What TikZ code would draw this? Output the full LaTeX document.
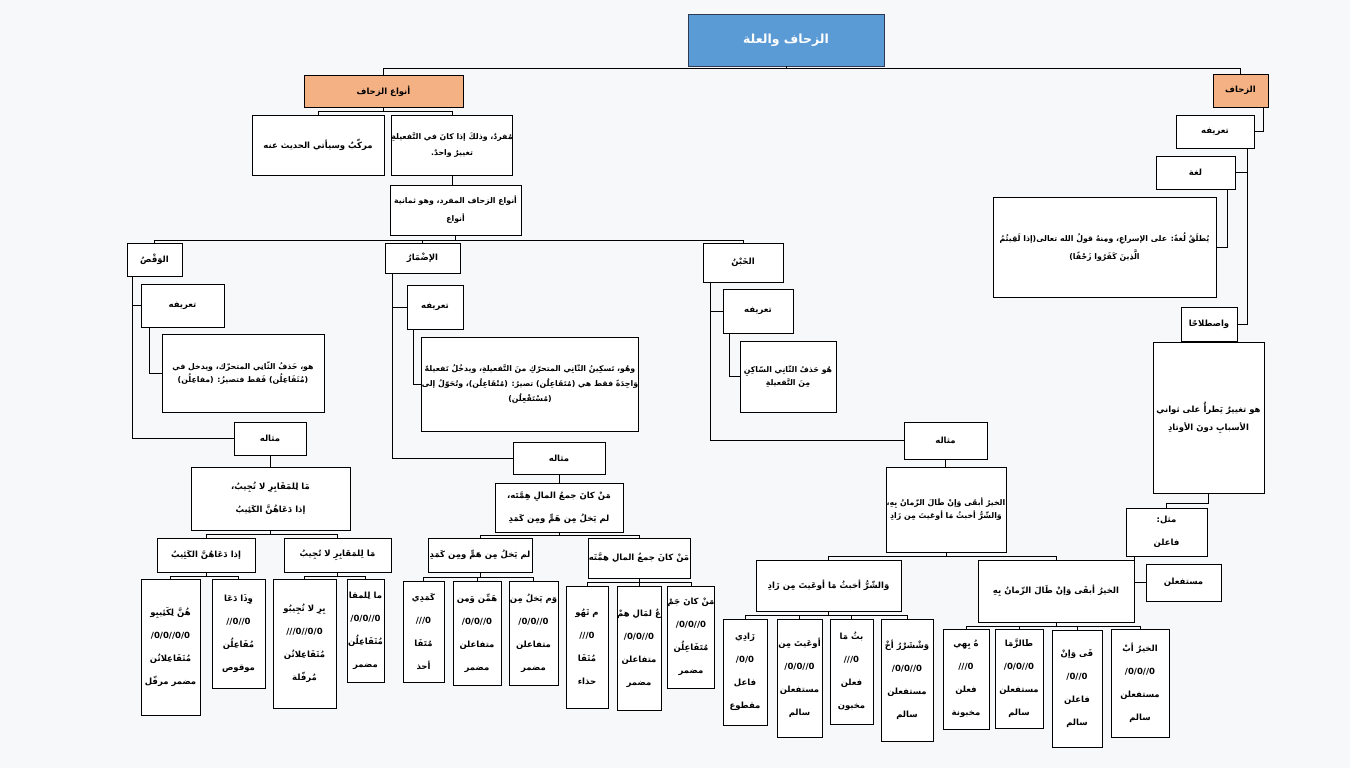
\documentclass[tikz,border=0pt]{standalone}
\usepackage{fontspec}
\usetikzlibrary{calc}
\newfontfamily\arabicfont[Script=Arabic]{DejaVu Sans}
\TeXXeTstate=1
\newcommand\AR[1]{\beginR #1\endR}
\definecolor{titleblue}{HTML}{5B9BD5}
\definecolor{titleborder}{HTML}{2F3B55}
\definecolor{orangebox}{HTML}{F4B183}
\definecolor{bgcol}{HTML}{F7F8FA}
\newcommand\mybox[7]{%
 \pgfmathsetmacro\mybw{#4-#2}\pgfmathsetmacro\mybh{#5-#3}%
 \node[#6, minimum width=\mybw pt, minimum height=\mybh pt] (#1) at ({(#2+#4)/2},{(#3+#5)/2}) {#7};}
\begin{document}
\begin{tikzpicture}[x=1pt,y=-1pt,
  bx/.style={draw=black, line width=0.8pt, fill=white, inner sep=0pt, align=center, font=\arabicfont\bfseries\fontsize{8.5}{16}\selectfont},
  lsp/.style={font=\arabicfont\bfseries\fontsize{8.5}{#1}\selectfont},
  sml/.style={font=\arabicfont\bfseries\fontsize{7.8}{#1}\selectfont},
  hdr/.style={bx, fill=orangebox},
  ttl/.style={bx, fill=titleblue, draw=titleborder, text=white, font=\arabicfont\bfseries\fontsize{12.5}{15}\selectfont},
  dbl/.style={bx, lsp=23},
  leaf/.style={bx, lsp=23},
  conn/.style={draw=black, line width=0.7pt}]
\fill[bgcol] (0,0) rectangle (1350,768);
\useasboundingbox (0,0) rectangle (1350,768);
% top
\mybox{title}{688}{14}{884}{66}{ttl}{\AR{الزحاف والعلة}}
\mybox{anwa}{304}{75}{463}{107}{hdr}{\AR{أنواع الزحاف}}
\mybox{zihaf}{1213}{74}{1268}{107}{hdr}{\AR{الزحاف}}
% right column
\mybox{tarif1}{1176}{115}{1254}{148}{bx}{\AR{تعريفه}}
\mybox{lugha}{1156}{156}{1235}{189}{bx}{\AR{لغة}}
\mybox{lughadef}{993}{197}{1216}{297}{bx,sml=18}{\AR{يُطلَقُ لُغةً: على الإسراعِ، ومِنهُ قولُ الله تعالى(إذا لَقِيتُمُ}\\\AR{الَّذِينَ كَفَرُوا زَحْفًا)}}
\mybox{istilah}{1181}{307}{1237}{341}{bx}{\AR{واصطلاحًا}}
\mybox{istdef}{1153}{342}{1264}{493}{bx,lsp=18}{\AR{هو تغييرٌ يَطرأُ على ثواني}\\\AR{الأسبابِ دونَ الأوتادِ}}
\mybox{mithl}{1126}{508}{1207}{556}{dbl}{\AR{مثل:}\\\AR{فاعلن}}
\mybox{mustaf}{1146}{564}{1221}{601}{bx}{\AR{مستفعلن}}
% left top
\mybox{murakkab}{252}{115}{384}{175}{bx}{\AR{مركّبٌ وسيأتي الحديث عنه}}
\mybox{mufrad}{392}{115}{512}{175}{bx,sml=16}{\AR{مُفردٌ، وذلكَ إذا كانَ في التَّفعيلةِ}\\\AR{تغييرٌ واحدٌ.}}
\mybox{thamaniya}{390}{185}{521}{235}{bx,sml=18}{\AR{أنواع الزحاف المفرد، وهو ثمانية}\\\AR{أنواع}}
% waqs
\mybox{waqs}{127}{243}{182}{276}{bx}{\AR{الوَقْصُ}}
\mybox{waqstarif}{141}{284}{224}{327}{bx}{\AR{تعريفه}}
\mybox{waqsdef}{162}{334}{324}{412}{bx,sml=13}{\AR{هو، حَذفُ الثّانِي المتحرّك، ويدخل في}\\\AR{(مُتَفَاعِلُن) فَقط فتصيرُ: (مفاعِلُن)}}
\mybox{waqsmithal}{234}{422}{306}{455}{bx}{\AR{مثاله}}
\mybox{waqsex}{191}{467}{350}{530}{dbl}{\AR{مَا لِلمَقَابِرِ لا تُجِيبُ،}\\\AR{إذا دَعَاهُنَّ الكَئِيبُ}}
\mybox{waqsA}{157}{538}{255}{572}{bx}{\AR{إذا دَعَاهُنَّ الكَئِيبُ}}
\mybox{waqsB}{284}{538}{391}{572}{bx}{\AR{مَا لِلمَقَابِرِ لا تُجِيبُ}}
\mybox{wa}{141}{579}{200}{715}{leaf}{\AR{هُنَّ لِكَئِيبِو}\\0/0//0/0/\\\AR{مُتَفَاعِلاتُن}\\\AR{مضمر مرفّل}}
\mybox{wb}{212}{579}{265}{688}{leaf}{\AR{وِذَا دَعَا}\\0//0//\\\AR{مُفَاعِلُن}\\\AR{موقوص}}
\mybox{wc}{273}{579}{336}{708}{leaf}{\AR{بِرِ لا تُجِيبُو}\\0/0//0///\\\AR{مُتَفَاعِلاتُن}\\\AR{مُرفّلة}}
\mybox{wd}{347}{579}{384}{682}{leaf}{\AR{ما لِلمقا}\\0//0/0/\\\AR{مُتَفَاعِلُن}\\\AR{مضمر}}
% idmar
\mybox{idmar}{385}{243}{460}{273}{bx}{\AR{الإضْمَارُ}}
\mybox{idtarif}{407}{285}{463}{329}{bx}{\AR{تعريفه}}
\mybox{iddef}{423}{337}{637}{431}{bx,sml=15}{\AR{وهُو، تَسكِينُ الثّانِي المتحرّكِ منَ التَّفعيلةِ، ويدخُلُ تَفعيلةً}\\\AR{وَاحِدَةً فقط هي (مُتَفَاعِلُن) تصيرُ: (مُتْفَاعِلُن)، وتُحَوّلُ إلى}\\\AR{(مُسْتَفْعِلُن)}}
\mybox{idmithal}{513}{442}{605}{474}{bx}{\AR{مثاله}}
\mybox{idex}{495}{483}{623}{532}{dbl}{\AR{مَنْ كانَ جمعُ المالِ هِمَّتَه،}\\\AR{لم يَخلُ مِن هَمٍّ ومِن كَمَدِ}}
\mybox{idA}{428}{538}{532}{572}{bx}{\AR{لم يَخلُ مِن هَمٍّ ومِن كَمَدِ}}
\mybox{idB}{588}{538}{690}{578}{bx}{\AR{مَنْ كانَ جمعُ المالِ هِمَّتَه}}
\mybox{il1}{403}{581}{444}{682}{leaf}{\AR{كَمَدِي}\\0///\\\AR{مُتَفَا}\\\AR{أحذ}}
\mybox{il2}{453}{581}{501}{685}{leaf}{\AR{هَمِّن وَمِن}\\0//0/0/\\\AR{متفاعلن}\\\AR{مضمر}}
\mybox{il3}{509}{581}{558}{685}{leaf}{\AR{وَم يَخلُ مِن}\\0//0/0/\\\AR{متفاعلن}\\\AR{مضمر}}
\mybox{ir1}{566}{586}{608}{708}{leaf}{\AR{م تَهُو}\\0///\\\AR{مُتَفَا}\\\AR{حذاء}}
\mybox{ir2}{617}{586}{661}{710}{leaf}{\AR{عُ لمَالِ هِمْ}\\0//0/0/\\\AR{متفاعلن}\\\AR{مضمر}}
\mybox{ir3}{670}{586}{712}{688}{leaf}{\AR{مَنْ كانَ جَمْ}\\0//0/0/\\\AR{مُتَفَاعِلُن}\\\AR{مضمر}}
% khabn
\mybox{khabn}{703}{243}{783}{282}{bx}{\AR{الخَبْنُ}}
\mybox{khtarif}{723}{289}{793}{333}{bx}{\AR{تعريفه}}
\mybox{khdef}{740}{341}{836}{412}{bx,sml=13}{\AR{هُو حَذفُ الثّانِي السّاكِنِ}\\\AR{مِنَ التَّفعيلةِ}}
\mybox{khmithal}{904}{422}{987}{459}{bx}{\AR{مثاله}}
\mybox{khex}{886}{467}{1006}{552}{bx,sml=13}{\AR{الخيرُ أبقَى وَإنْ طَالَ الزّمانُ بِهِ،}\\\AR{وَالشّرُّ أخبثُ مَا أوعَيتَ مِن زَادِ}}
\mybox{khA}{756}{560}{901}{611}{bx}{\AR{وَالشّرُّ أخبثُ مَا أوعَيتَ مِن زَادِ}}
\mybox{khB}{978}{560}{1134}{622}{bx}{\AR{الخيرُ أبقَى وَإنْ طَالَ الزّمانُ بِهِ}}
\mybox{k1}{723}{619}{767}{725}{leaf}{\AR{زَادِي}\\0/0/\\\AR{فاعل}\\\AR{مقطوع}}
\mybox{k2}{777}{619}{822}{737}{leaf}{\AR{أوعَيتَ مِن}\\0//0/0/\\\AR{مستفعلن}\\\AR{سالم}}
\mybox{k3}{830}{619}{873}{724}{leaf}{\AR{بثُ مَا}\\0///\\\AR{فعلن}\\\AR{مخبون}}
\mybox{k4}{881}{619}{933}{741}{leaf}{\AR{وَشْشَرْرُ أخْ}\\0//0/0/\\\AR{مستفعلن}\\\AR{سالم}}
\mybox{m1}{943}{629}{989}{729}{leaf}{\AR{هُ بِهِي}\\0///\\\AR{فعلن}\\\AR{مخبونة}}
\mybox{m2}{995}{629}{1043}{728}{leaf}{\AR{طَالزَّمَا}\\0//0/0/\\\AR{مستفعلن}\\\AR{سالم}}
\mybox{m3}{1052}{630}{1102}{747}{leaf}{\AR{قَى وَإنْ}\\0//0/\\\AR{فاعلن}\\\AR{سالم}}
\mybox{m4}{1111}{629}{1169}{737}{leaf}{\AR{الخيرُ أبْ}\\0//0/0/\\\AR{مستفعلن}\\\AR{سالم}}
% connectors top
\coordinate (j0) at ($(title.south)+(0,2)$);
\draw[conn] (title.south) -- (j0);
\draw[conn] (anwa.north) |- (j0) -| (zihaf.north);
% right column
\draw[conn] ([xshift=-5pt]zihaf.south east) |- (tarif1.east);
\draw[conn] ([xshift=-7pt]tarif1.south east) |- (lugha.east);
\draw[conn] ([xshift=-7pt]tarif1.south east) |- (istilah.east);
\draw[conn] ([xshift=-8pt]lugha.south east) |- (lughadef.east);
\draw[conn] (istilah.south) -- (istilah.south |- istdef.north);
\draw[conn] (istdef.south) -- ++(0,10) -| (mithl.north);
\draw[conn] ([xshift=9pt]mithl.south west) |- (mustaf.west);
% left top
\draw[conn] (anwa.south) -- ++(0,4) coordinate (j1);
\draw[conn] (murakkab.north) |- (j1) -| (mufrad.north);
\draw[conn] (mufrad.south) -- (mufrad.south |- thamaniya.north);
\draw[conn] (thamaniya.south) -- ++(0,5) coordinate (j2);
\draw[conn] (waqs.north) |- (j2) -| (khabn.north);
\draw[conn] (idmar.north) -- (idmar.north |- j2);
% waqs
\draw[conn] ([xshift=6pt]waqs.south west) |- (waqstarif.west);
\draw[conn] ([xshift=6pt]waqs.south west) |- (waqsmithal.west);
\draw[conn] ([xshift=9pt]waqstarif.south west) |- (waqsdef.west);
\draw[conn] (waqsmithal.south) -- (waqsmithal.south |- waqsex.north);
\draw[conn] (waqsex.south) -- ++(0,4) coordinate (j3);
\draw[conn] (waqsA.north) |- (j3) -| (waqsB.north);
\draw[conn] (waqsA.south) -- ++(0,4) coordinate (j4);
\draw[conn] (wa.north) |- (j4) -| (wb.north);
\draw[conn] (waqsB.south) -- ++(0,4) coordinate (j5);
\draw[conn] (wc.north) |- (j5) -| (wd.north);
% idmar
\draw[conn] ([xshift=8pt]idmar.south west) |- (idtarif.west);
\draw[conn] ([xshift=8pt]idmar.south west) |- (idmithal.west);
\draw[conn] ([xshift=7pt]idtarif.south west) |- (iddef.west);
\draw[conn] (idmithal.south) -- (idmithal.south |- idex.north);
\draw[conn] (idex.south) -- ++(0,3) coordinate (j6);
\draw[conn] (idA.north) |- (j6) -| (idB.north);
\draw[conn] (idA.south) -- ++(0,5) coordinate (j7);
\draw[conn] (il1.north) |- (j7) -| (il3.north);
\draw[conn] (il2.north) -- (il2.north |- j7);
\draw[conn] (idB.south) -- ++(0,4) coordinate (j8);
\draw[conn] (ir1.north) |- (j8) -| (ir3.north);
\draw[conn] (ir2.north) -- (ir2.north |- j8);
% khabn
\draw[conn] ([xshift=8pt]khabn.south west) |- (khtarif.west);
\draw[conn] ([xshift=8pt]khabn.south west) |- (khmithal.west);
\draw[conn] ([xshift=7pt]khtarif.south west) |- (khdef.west);
\draw[conn] (khmithal.south) -- (khmithal.south |- khex.north);
\draw[conn] (khex.south) -- ++(0,4) coordinate (j9);
\draw[conn] (khA.north) |- (j9) -| (khB.north);
\draw[conn] (khA.south) -- ++(0,4) coordinate (j10);
\draw[conn] (k1.north) |- (j10) -| (k4.north);
\draw[conn] (k2.north) -- (k2.north |- j10);
\draw[conn] (k3.north) -- (k3.north |- j10);
\draw[conn] (khB.south) -- ++(0,4) coordinate (j11);
\draw[conn] (m1.north) |- (j11) -| (m4.north);
\draw[conn] (m2.north) -- (m2.north |- j11);
\draw[conn] (m3.north) -- (m3.north |- j11);
\end{tikzpicture}
\end{document}
